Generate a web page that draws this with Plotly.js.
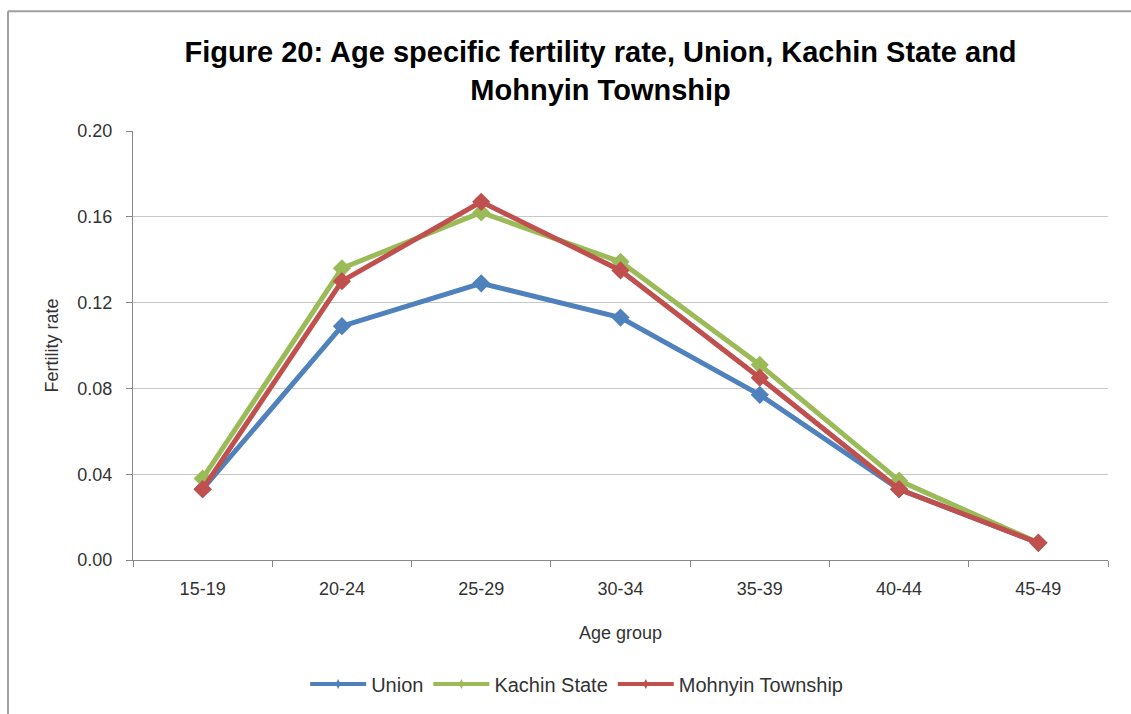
<!DOCTYPE html>
<html>
<head>
<meta charset="utf-8">
<script src="https://cdn.plot.ly/plotly-3.0.1.min.js"></script>
<style>
html,body{margin:0;padding:0;background:#fff;}
#chart{width:1131px;height:714px;}
</style>
</head>
<body>
<div id="chart"></div>
<script>
const ageGroups = ["15-19","20-24","25-29","30-34","35-39","40-44","45-49"];
const union = [0.033, 0.109, 0.129, 0.113, 0.077, 0.033, 0.008];
const kachin = [0.038, 0.136, 0.162, 0.139, 0.091, 0.037, 0.008];
const mohnyin = [0.033, 0.130, 0.167, 0.135, 0.085, 0.033, 0.008];
const seriesNames = ["Union","Kachin State","Mohnyin Township"];
const seriesColors = ["#4F81BD","#9BBB59","#C0504D"];
const yTicks = [0, 0.04, 0.08, 0.12, 0.16, 0.20];
const yTickText = ["0.00","0.04","0.08","0.12","0.16","0.20"];

const seriesData = [union, kachin, mohnyin];
const traces = seriesData.map((vals, i) => ({
  type: "scatter",
  mode: "lines+markers",
  x: ageGroups,
  y: vals,
  name: seriesNames[i],
  showlegend: false,
  line: {color: seriesColors[i], width: 5},
  marker: {symbol: "diamond", size: 14, color: seriesColors[i]}
}));
// legend entries (smaller marker as in the reference legend)
seriesNames.forEach((n, i) => {
  traces.push({
    type: "scatter", mode: "lines+markers",
    x: [null], y: [null], name: n, showlegend: true,
    line: {color: seriesColors[i], width: 4},
    marker: {symbol: "diamond-tall", size: 7, color: seriesColors[i]}
  });
});

const font = "Liberation Sans, Arial, sans-serif";
const layout = {
  width: 1131, height: 714,
  margin: {l: 133, r: 23, t: 131, b: 153},
  paper_bgcolor: "#fff", plot_bgcolor: "#fff",
  font: {family: font, color: "#333", size: 18},
  title: {
    text: "<b>Figure 20: Age specific fertility rate, Union, Kachin State and<br>Mohnyin Township</b>",
    font: {family: font, size: 29, color: "#000"},
    x: 0.531, xanchor: "center", xref: "container",
    y: 0.913, yanchor: "middle", yref: "container"
  },
  xaxis: {
    type: "category",
    tickson: "boundaries",
    ticks: "outside", ticklen: 6, tickcolor: "#888",
    showline: true, linecolor: "#888", linewidth: 1,
    showgrid: false,
    ticklabelstandoff: 12,
    tickfont: {size: 18, color: "#333"},
    title: {text: "Age group", font: {size: 18, color: "#333"}, standoff: 28},
    range: [-0.5, 6.5], fixedrange: true
  },
  yaxis: {
    range: [0, 0.20],
    tickvals: yTicks, ticktext: yTickText,
    ticks: "outside", ticklen: 6, tickcolor: "#888",
    showline: true, linecolor: "#888", linewidth: 1,
    showgrid: true, gridcolor: "#c8c8c8", gridwidth: 1,
    zeroline: false,
    ticklabelstandoff: 10,
    tickfont: {size: 18, color: "#333"},
    title: {text: "Fertility rate", font: {size: 18, color: "#333"}, standoff: 14},
    automargin: false
  },
  legend: {
    orientation: "h",
    x: 0.455, xanchor: "center",
    y: -0.286, yanchor: "middle",
    font: {size: 20, color: "#333"},
    itemwidth: 56,
    tracegroupgap: 0
  },
  shapes: [
    {type: "line", xref: "paper", yref: "paper", x0: -0.1282, x1: 1.1, y0: 1.2791, y1: 1.2791,
     line: {color: "#a0a0a0", width: 2}},
    {type: "line", xref: "paper", yref: "paper", x0: -0.1282, x1: -0.1282, y0: 1.2791, y1: -0.5,
     line: {color: "#a0a0a0", width: 2}}
  ],
  showlegend: true
};

Plotly.newPlot("chart", traces, layout, {displayModeBar: false, staticPlot: true});
</script>
</body>
</html>
